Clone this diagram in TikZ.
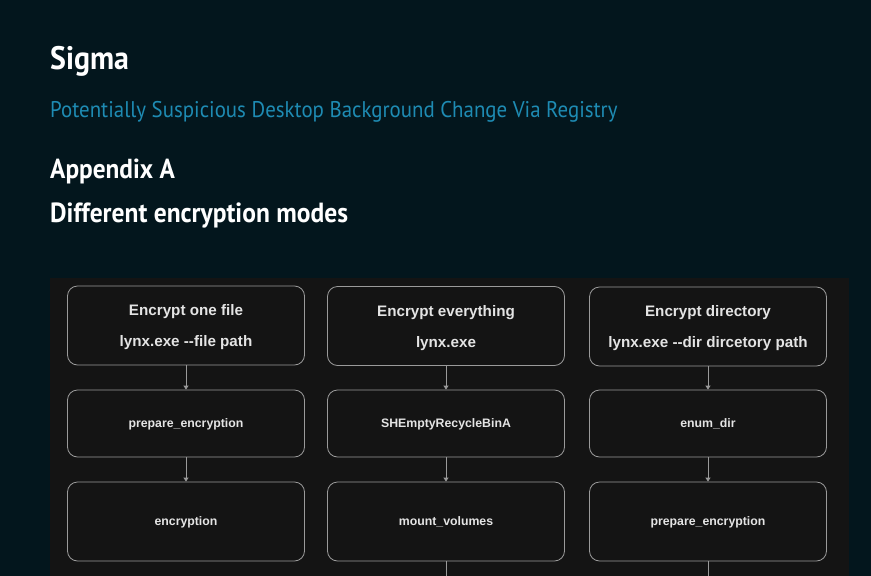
\documentclass[tikz,border=0pt]{standalone}
\usepackage{fontspec}
\setmainfont{Liberation Sans}
\newfontfamily\headfont[FakeStretch=0.92]{PT Sans}
\usetikzlibrary{arrows.meta}

\definecolor{pagebg}{HTML}{03161D}
\definecolor{panelbg}{HTML}{141414}
\definecolor{linkblue}{HTML}{1E8BB3}
\definecolor{boxline}{HTML}{9A9A9A}
\definecolor{boxtext}{HTML}{E4E4E4}

\tikzset{
  stepbox/.style={draw=boxline,fill=panelbg,rounded corners=10pt,line width=0.8pt,
    minimum width=237pt,inner sep=0pt,align=center,text=boxtext,text depth=0pt},
  bigbox/.style={stepbox,minimum height=79pt,font=\fontsize{15.2}{31}\selectfont\bfseries},
  callbox/.style={stepbox,minimum height=67pt,font=\fontsize{12.3}{14}\selectfont\bfseries},
  tallbox/.style={stepbox,minimum height=79pt,font=\fontsize{12.3}{14}\selectfont\bfseries},
  flow/.style={draw=boxline,line width=0.8pt,-{Triangle[length=4pt,width=5pt]}},
  heading/.style={anchor=base west,inner sep=0pt,text=white,font=\headfont\bfseries\fontsize{32.5}{36}\selectfont}
}

\begin{document}
\begin{tikzpicture}[x=1pt,y=-1pt]
\useasboundingbox (0,0) rectangle (871,576);
\fill[pagebg] (0,0) rectangle (871,576);
\fill[panelbg] (50,278) rectangle (849,576);

% page text
\node[heading] (sigma) at (50,69) {Sigma};
\node[anchor=base west,inner sep=0pt,text=linkblue,font=\headfont\fontsize{22.7}{26}\selectfont] (rule) at (50,117) {Potentially Suspicious Desktop Background Change Via Registry};
\node[heading,font=\headfont\bfseries\fontsize{27.5}{31}\selectfont] (appx) at (50,178) {Appendix A};
\node[heading,font=\headfont\bfseries\fontsize{27.7}{31}\selectfont] (modes) at (50,222) {Different encryption modes};

% encrypt one file
\node[bigbox] (one1) at (186,325.5) {Encrypt one file\\lynx.exe -{}-file path};
\node[callbox] (one2) at (186,423.5) {prepare\_encryption};
\node[tallbox] (one3) at (186,521.5) {encryption};

% encrypt everything
\node[bigbox] (all1) at (446,326) {Encrypt everything\\lynx.exe};
\node[callbox] (all2) at (446,423.5) {SHEmptyRecycleBinA};
\node[tallbox] (all3) at (446,521.5) {mount\_volumes};
\coordinate (allnext) at (446,580);

% encrypt directory
\node[bigbox] (dir1) at (708,326.5) {Encrypt directory\\lynx.exe -{}-dir dircetory path};
\node[callbox] (dir2) at (708,423.5) {enum\_dir};
\node[tallbox] (dir3) at (708,521.5) {prepare\_encryption};
\coordinate (dirnext) at (708,580);

\draw[flow] (one1) -- (one2);
\draw[flow] (one2) -- (one3);
\draw[flow] (all1) -- (all2);
\draw[flow] (all2) -- (all3);
\draw[flow] (dir1) -- (dir2);
\draw[flow] (dir2) -- (dir3);
\draw[boxline,line width=0.8pt] (all3) -- (allnext);
\draw[boxline,line width=0.8pt] (dir3) -- (dirnext);
\end{tikzpicture}
\end{document}
